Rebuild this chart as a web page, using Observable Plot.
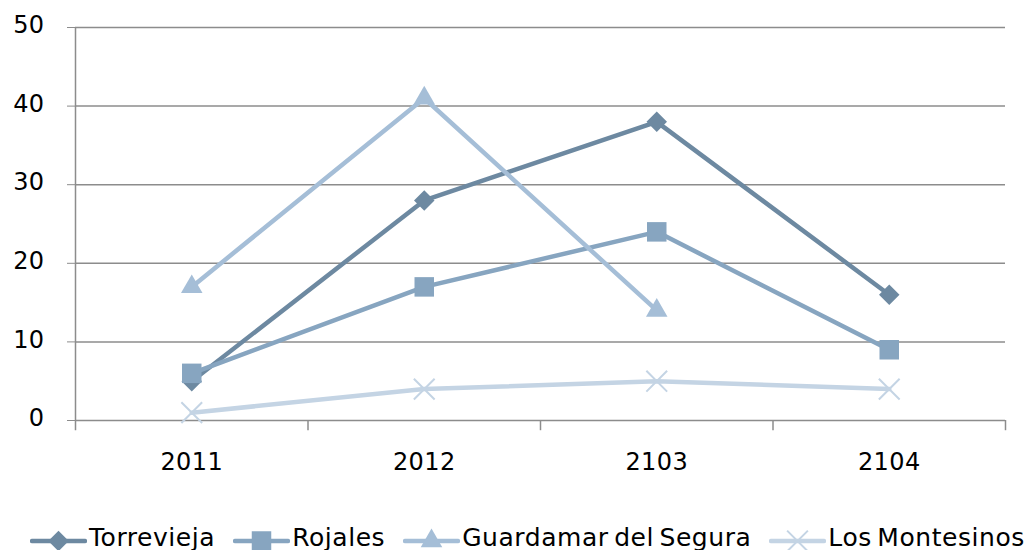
<!DOCTYPE html>
<html><head><meta charset="utf-8">
<script src="https://cdn.jsdelivr.net/npm/d3@7"></script>
<script src="https://cdn.jsdelivr.net/npm/@observablehq/plot@0.6"></script>
<style>
body{margin:0;background:#fff;font-family:"DejaVu Sans",sans-serif;}
#wrap{position:relative;width:1025px;height:550px;}
#chart svg text{fill:#000;letter-spacing:0.4px;}
#legend{position:absolute;left:30px;top:523px;display:flex;align-items:flex-start;font-size:25px;line-height:29px;letter-spacing:0.55px;word-spacing:-3px;color:#000;white-space:nowrap;}
.item{display:flex;align-items:flex-start;margin-right:18px;}
.item svg{margin-right:2px;display:block;}
</style></head>
<body><div id="wrap"><div id="chart"></div><div id="legend"></div></div>
<script>
const categories = ["2011", "2012", "2103", "2104"];
const seriesNames = ["Torrevieja", "Rojales", "Guardamar del Segura", "Los Montesinos"];
const torrevieja = [5, 28, 38, 16];
const rojales = [6, 17, 24, 9];
const guardamar = [17, 41, 14, null];
const montesinos = [1, 4, 5, 4];
const yTicks = [0, 10, 20, 30, 40, 50];
const colors = ["#6d89a1", "#87a5c0", "#a5bed7", "#c4d4e4"];
const symbols = ["square", "square", "triangle", "times"];
const rotates = [45, 0, 0, 0];
const radii = [8.2, 11, 8, 9.5];

const allValues = [torrevieja, rojales, guardamar, montesinos];
const data = [];
seriesNames.forEach((s, si) => allValues[si].forEach((v, i) => { if (v != null) data.push({series: s, si, i, v}); }));
const bounds = d3.range(categories.length + 1).map(i => i - 0.5);

const marks = [
  Plot.ruleY(yTicks, {stroke: "#8c8c8c", strokeWidth: 1.5}),
  Plot.ruleX(bounds, {y1: -1.3, y2: b => b === -0.5 ? 50 : 0, stroke: "#8c8c8c", strokeWidth: 1.5})
];
seriesNames.forEach((s, si) => {
  const d = data.filter(o => o.si === si);
  marks.push(Plot.line(d, {x: "i", y: "v", stroke: colors[si], strokeWidth: 4.5, strokeLinejoin: "round"}));
});
seriesNames.forEach((s, si) => {
  const d = data.filter(o => o.si === si);
  const isStroke = symbols[si] === "times";
  marks.push(Plot.dot(d, {x: "i", y: "v", symbol: () => symbols[si], r: radii[si], rotate: rotates[si],
    fill: isStroke ? "none" : colors[si], stroke: isStroke ? colors[si] : "none", strokeWidth: isStroke ? 2 : 0}));
});

const chart = Plot.plot({
  width: 1025, height: 500,
  marginLeft: 75, marginRight: 20, marginTop: 27, marginBottom: 80,
  style: {fontFamily: "DejaVu Sans", fontSize: "24px", color: "#8c8c8c", background: "#fff"},
  symbol: {type: "identity"},
  x: {type: "linear", domain: [-0.5, categories.length - 0.5], ticks: d3.range(categories.length), tickFormat: i => categories[i], tickSize: 0, tickPadding: 32, label: null},
  y: {domain: [0, 50], ticks: yTicks, tickSize: 8, tickPadding: 23, label: null},
  marks
});
document.getElementById("chart").appendChild(chart);
chart.querySelectorAll('g[aria-label="y-axis tick label"] text').forEach(t => t.setAttribute("dy", "-0.08em"));

const legend = document.getElementById("legend");
seriesNames.forEach((s, si) => {
  const item = document.createElement("div");
  item.className = "item";
  const sw = d3.create("svg").attr("width", 57).attr("height", 29);
  sw.append("line").attr("x1", 2).attr("x2", 55).attr("y1", 18).attr("y2", 18).attr("stroke", colors[si]).attr("stroke-width", 4.5).attr("stroke-linecap", "round");
  const symMap = {square: d3.symbolSquare, triangle: d3.symbolTriangle, times: d3.symbolTimes};
  const g = sw.append("path").attr("d", d3.symbol(symMap[symbols[si]], radii[si] * radii[si] * Math.PI)())
    .attr("transform", `translate(28.5,18) rotate(${rotates[si]})`);
  if (symbols[si] === "times") g.attr("fill", "none").attr("stroke", colors[si]).attr("stroke-width", 2);
  else g.attr("fill", colors[si]);
  item.appendChild(sw.node());
  const t = document.createElement("span");
  t.textContent = s;
  item.appendChild(t);
  legend.appendChild(item);
});
</script></body></html>
